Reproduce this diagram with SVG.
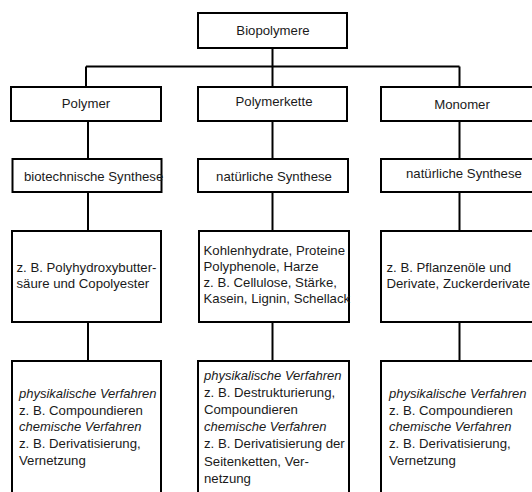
<svg xmlns="http://www.w3.org/2000/svg" width="532" height="492" viewBox="0 0 532 492">
<style>
rect.box{fill:#fff;stroke:#000;stroke-width:2}
.c line,.c path{stroke:#000;stroke-width:2;fill:none}
text{font-family:"Liberation Sans",Arial,sans-serif;font-size:13.2px;fill:#1a1a1a}
.m{text-anchor:middle}
.i{font-style:italic;font-size:13px}
</style>
<rect width="532" height="492" fill="#fff"/>
<g class="c" id="connectors">
<line x1="272.5" y1="48" x2="272.5" y2="87"/>
<line x1="86" y1="66.5" x2="459.5" y2="66.5"/>
<line x1="86" y1="66.5" x2="86" y2="87"/>
<line x1="459.5" y1="66.5" x2="459.5" y2="87"/>
<line x1="88" y1="121" x2="88" y2="159"/>
<line x1="272.5" y1="121" x2="272.5" y2="159"/>
<line x1="459.5" y1="121" x2="459.5" y2="159"/>
<line x1="88" y1="192" x2="88" y2="231"/>
<line x1="272.5" y1="192" x2="272.5" y2="231"/>
<line x1="459.5" y1="192" x2="459.5" y2="231"/>
<line x1="88" y1="322" x2="88" y2="361"/>
<line x1="272.5" y1="322" x2="272.5" y2="361"/>
<line x1="459.5" y1="322" x2="459.5" y2="361"/>
</g>
<g id="biopolymere"><rect class="box" x="198" y="13" width="149" height="35"/><text class="m" x="273" y="35">Biopolymere</text></g>
<g id="polymer"><rect class="box" x="11" y="87" width="150" height="34"/><text class="m" x="86" y="108">Polymer</text></g>
<g id="polymerkette"><rect class="box" x="198" y="87" width="149" height="34"/><text class="m" x="274" y="106">Polymerkette</text></g>
<g id="monomer"><rect class="box" x="381" y="87" width="160" height="34"/><text class="m" x="462" y="109">Monomer</text></g>
<g id="biotech"><rect class="box" x="12.5" y="159" width="149" height="33"/><text x="24" y="181">biotechnische Synthese</text></g>
<g id="natuerlich1"><rect class="box" x="198" y="159" width="150" height="33"/><text class="m" x="274" y="181">natürliche Synthese</text></g>
<g id="natuerlich2"><rect class="box" x="381" y="159" width="160" height="33"/><text x="406" y="178">natürliche Synthese</text></g>
<g id="pha"><rect class="box" x="12" y="231" width="149" height="91"/><text x="16.5" y="271.5">z. B. Polyhydroxybutter-</text><text x="16.5" y="287.5">säure und Copolyester</text></g>
<g id="natpoly"><rect class="box" x="199" y="231" width="150" height="91"/><text x="203.5" y="255">Kohlenhydrate, Proteine</text><text x="203.5" y="271">Polyphenole, Harze</text><text x="203.5" y="287">z. B. Cellulose, Stärke,</text><text x="203.5" y="302.5">Kasein, Lignin, Schellack</text></g>
<g id="pflanzen"><rect class="box" x="381" y="231" width="160" height="91"/><text x="386.5" y="271.5">z. B. Pflanzenöle und</text><text x="386.5" y="287.5">Derivate, Zuckerderivate</text></g>
<g id="verf1"><rect class="box" x="12" y="361" width="149" height="140"/><text class="i" x="19" y="398">physikalische Verfahren</text><text x="19" y="414.5">z. B. Compoundieren</text><text class="i" x="19" y="431">chemische Verfahren</text><text x="19" y="448">z. B. Derivatisierung,</text><text x="19" y="465">Vernetzung</text></g>
<g id="verf2"><rect class="box" x="198" y="361" width="151" height="140"/><text class="i" x="204" y="380">physikalische Verfahren</text><text x="204" y="396.5">z. B. Destrukturierung,</text><text x="204" y="414">Compoundieren</text><text class="i" x="204" y="431">chemische Verfahren</text><text x="204" y="448">z. B. Derivatisierung der</text><text x="204" y="465.5">Seitenketten, Ver-</text><text x="204" y="483">netzung</text></g>
<g id="verf3"><rect class="box" x="381" y="361" width="160" height="140"/><text class="i" x="389" y="398">physikalische Verfahren</text><text x="389" y="414.5">z. B. Compoundieren</text><text class="i" x="389" y="431">chemische Verfahren</text><text x="389" y="448">z. B. Derivatisierung,</text><text x="389" y="465">Vernetzung</text></g>
</svg>
